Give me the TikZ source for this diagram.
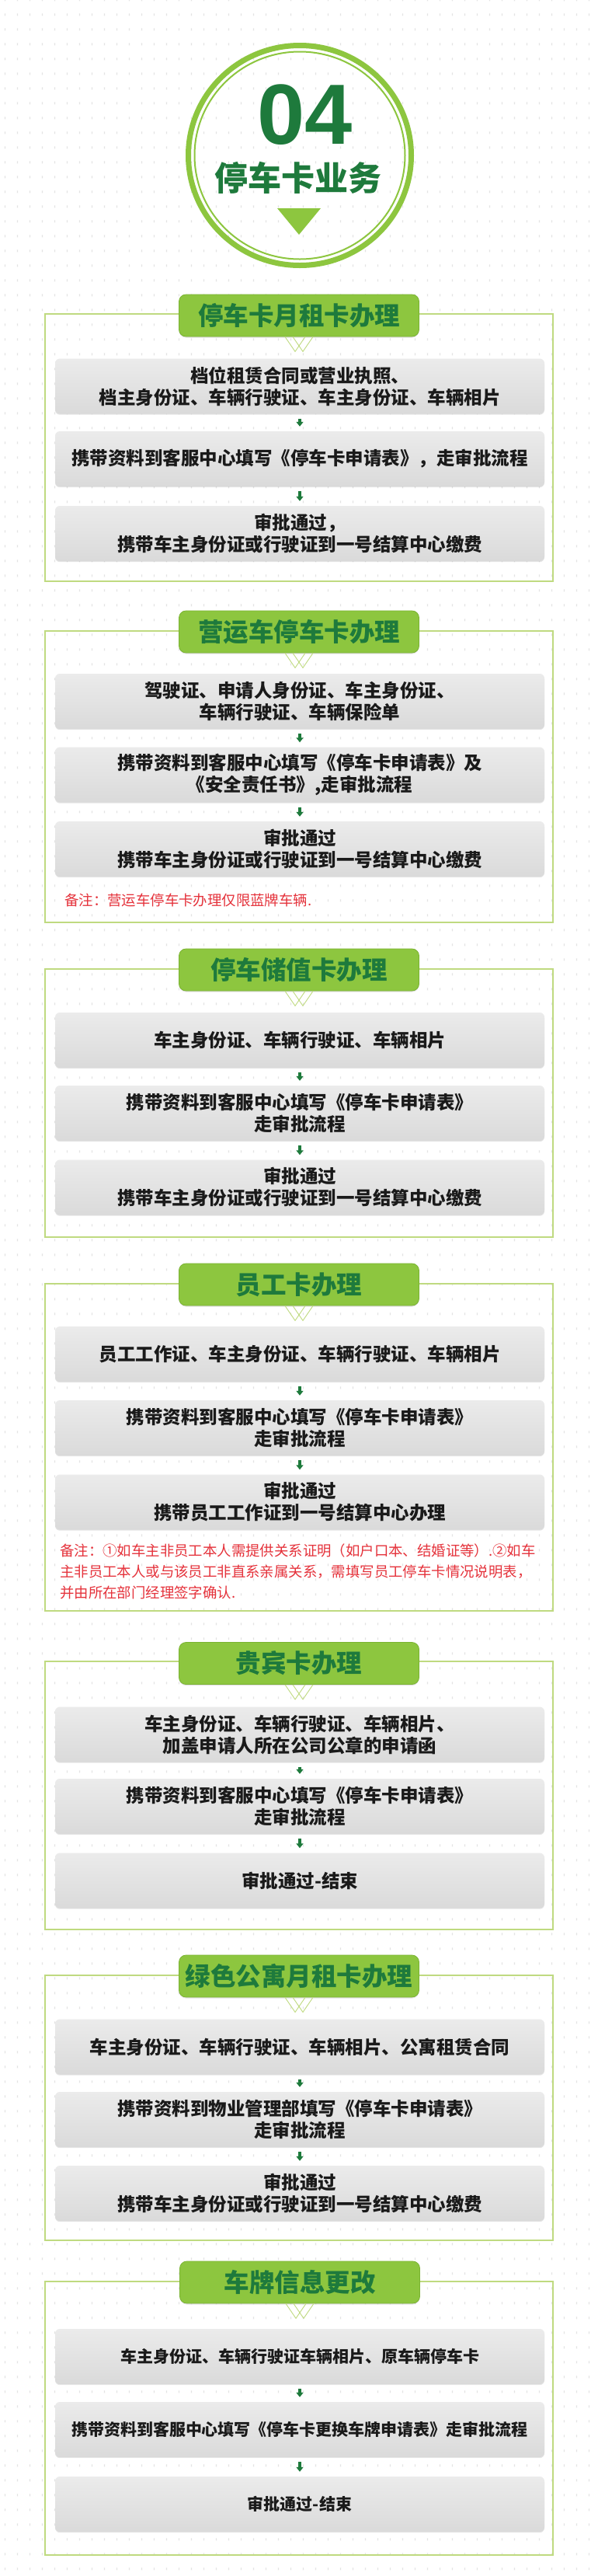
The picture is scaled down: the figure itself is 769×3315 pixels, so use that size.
\documentclass[tikz,border=0pt]{standalone}
\usepackage{fontspec}
\setmainfont{Noto Sans CJK SC}
\newfontfamily\numfont{Liberation Sans}
\usetikzlibrary{arrows.meta,patterns,shadows}
\definecolor{lg}{HTML}{8DC63F}
\definecolor{lgd}{HTML}{7AB332}
\definecolor{dg}{HTML}{1E7A3C}
\definecolor{fr}{HTML}{BFDA80}
\definecolor{boxtop}{HTML}{EBEBEB}
\definecolor{boxbot}{HTML}{DADADA}
\definecolor{txt}{HTML}{1A1A1A}
\definecolor{nred}{HTML}{E5323B}
\pgfdeclarepatternformonly{bgmarks}{\pgfpointorigin}{\pgfqpoint{16.4pt}{19pt}}{\pgfqpoint{16.4pt}{19pt}}{\pgfpathrectangle{\pgfqpoint{7pt}{8pt}}{\pgfqpoint{1.3pt}{3.2pt}}\pgfusepath{fill}}
\newcommand\boxfont{\fontsize{23.5}{28}\selectfont\bfseries}
\newcommand\smallboxfont{\fontsize{21}{26}\selectfont\bfseries}
\newcommand\tabfont{\fontsize{32.5}{36}\selectfont\bfseries}
\newcommand\notefont{\fontsize{18.4}{27}\selectfont}
\tikzset{
  tabbox/.style={fill=lg, draw=lgd, line width=0.8pt, rounded corners=9pt,
    minimum width=309pt, minimum height=54pt, inner sep=0pt, font=\tabfont, text=dg,
    drop shadow={shadow xshift=0pt, shadow yshift=-1.5pt, opacity=0.25}},
  stepbox/.style={rounded corners=6pt, top color=boxtop, bottom color=boxbot, draw=none,
    minimum width=630pt, minimum height=71pt, inner sep=0pt, align=center, font=\boxfont, text=txt,
    drop shadow={shadow xshift=0pt, shadow yshift=-1.2pt, opacity=0.2}},
  frame/.style={draw=fr, line width=1.2pt},
  arr/.style={-{Triangle[width=9pt,length=6pt]}, line width=3.6pt, draw=dg, shorten <=6pt, shorten >=6pt},
  note/.style={text=nred, font=\notefont, anchor=west, align=left, inner sep=0pt},
  chev/.style={draw=fr, line width=0.9pt}
}
\begin{document}
\begin{tikzpicture}[x=1pt,y=-1pt]
\useasboundingbox (0,0) rectangle (769,3315);
\fill[white] (0,0) rectangle (769,3315);
\fill[pattern=bgmarks, pattern color=black!11] (0,0) rectangle (769,3315);

% header circle
\draw[lg, line width=7pt] (386,200) ellipse [x radius=143.5, y radius=141.5];
\draw[lg, line width=2pt] (386,200) ellipse [x radius=135.5, y radius=133.5];
\node[font=\numfont\bfseries\fontsize{110}{110}\selectfont, text=dg, anchor=base, inner sep=0pt] (num) at (393,185) {04};
\node[font=\fontsize{43}{46}\selectfont\bfseries, text=dg, inner sep=0pt] (head) at (384,229) {停车卡业务};
\fill[lg] (357,268) -- (413,268) -- (385,302) -- cycle;

% frames
\draw[frame] (58,404) rectangle (712,748);
\draw[frame] (58,812) rectangle (712,1187);
\draw[frame] (58,1247) rectangle (712,1592);
\draw[frame] (58,1652) rectangle (712,2073);
\draw[frame] (58,2138) rectangle (712,2483);
\draw[frame] (58,2542) rectangle (712,2883);
\draw[frame] (58,2936) rectangle (712,3288);

% tabs
\node[tabbox] (t1) at (385,406) {停车卡月租卡办理};
\node[tabbox] (t2) at (385,813) {营运车停车卡办理};
\node[tabbox] (t3) at (385,1248) {停车储值卡办理};
\node[tabbox] (t4) at (385,1653) {员工卡办理};
\node[tabbox] (t5) at (385,2140.5) {贵宾卡办理};
\node[tabbox] (t6) at (385,2543) {绿色公寓月租卡办理};
\node[tabbox] (t7) at (386,2937) {车牌信息更改};

\foreach \t in {t1,t2,t3,t4,t5,t6,t7}{
  \draw[chev] ([shift={(-18,0)}]\t.south) -- ([shift={(-5,19)}]\t.south) -- ([shift={(8,0)}]\t.south);
  \draw[chev] ([shift={(-8,0)}]\t.south) -- ([shift={(5,19)}]\t.south) -- ([shift={(18,0)}]\t.south);
}

% section 1
\node[stepbox] (a1) at (386,497) {档位租赁合同或营业执照、\\档主身份证、车辆行驶证、车主身份证、车辆相片};
\node[stepbox] (b1) at (386,590.5) {携带资料到客服中心填写《停车卡申请表》，走审批流程};
\node[stepbox] (c1) at (386,686.5) {审批通过，\\携带车主身份证或行驶证到一号结算中心缴费};
% section 2
\node[stepbox] (a2) at (386,902.5) {驾驶证、申请人身份证、车主身份证、\\车辆行驶证、车辆保险单};
\node[stepbox] (b2) at (386,997) {携带资料到客服中心填写《停车卡申请表》及\\《安全责任书》,走审批流程};
\node[stepbox] (c2) at (386,1092.5) {审批通过\\携带车主身份证或行驶证到一号结算中心缴费};
\node[note] (n2) at (83,1158) {备注：营运车停车卡办理仅限蓝牌车辆.};
% section 3
\node[stepbox] (a3) at (386,1338.5) {车主身份证、车辆行驶证、车辆相片};
\node[stepbox] (b3) at (386,1432.5) {携带资料到客服中心填写《停车卡申请表》\\走审批流程};
\node[stepbox] (c3) at (386,1528) {审批通过\\携带车主身份证或行驶证到一号结算中心缴费};
% section 4
\node[stepbox] (a4) at (386,1742.5) {员工工作证、车主身份证、车辆行驶证、车辆相片};
\node[stepbox] (b4) at (386,1837.5) {携带资料到客服中心填写《停车卡申请表》\\走审批流程};
\node[stepbox] (c4) at (386,1933) {审批通过\\携带员工工作证到一号结算中心办理};
\node[note] (n4) at (77,2022) {备注：①如车主非员工本人需提供关系证明（如户口本、结婚证等）.②如车\\主非员工本人或与该员工非直系亲属关系，需填写员工停车卡情况说明表，\\并由所在部门经理签字确认.};
% section 5
\node[stepbox] (a5) at (386,2232) {车主身份证、车辆行驶证、车辆相片、\\加盖申请人所在公司公章的申请函};
\node[stepbox] (b5) at (386,2324.5) {携带资料到客服中心填写《停车卡申请表》\\走审批流程};
\node[stepbox] (c5) at (386,2420) {审批通过-结束};
% section 6
\node[stepbox] (a6) at (386,2634) {车主身份证、车辆行驶证、车辆相片、公寓租赁合同};
\node[stepbox] (b6) at (386,2727.5) {携带资料到物业管理部填写《停车卡申请表》\\走审批流程};
\node[stepbox] (c6) at (386,2822.5) {审批通过\\携带车主身份证或行驶证到一号结算中心缴费};
% section 7
\node[stepbox, font=\smallboxfont] (a7) at (386,3032.5) {车主身份证、车辆行驶证车辆相片、原车辆停车卡};
\node[stepbox, font=\smallboxfont] (b7) at (386,3126.5) {携带资料到客服中心填写《停车卡更换车牌申请表》走审批流程};
\node[stepbox, font=\smallboxfont] (c7) at (386,3222.5) {审批通过-结束};

% arrows
\foreach \s in {1,...,7}{
  \draw[arr] (a\s) -- (b\s);
  \draw[arr] (b\s) -- (c\s);
}
\end{tikzpicture}
\end{document}
